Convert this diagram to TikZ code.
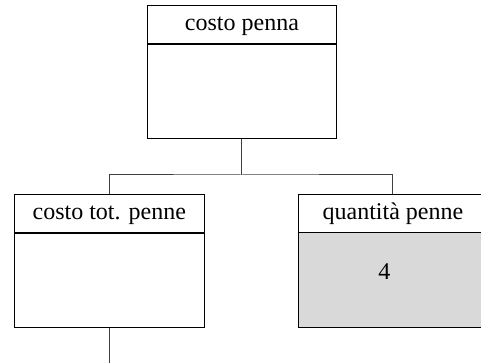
\documentclass[tikz,border=0pt]{standalone}
\usepackage{fontspec}
\setmainfont{Liberation Serif}
\begin{document}
\begin{tikzpicture}[x=1pt,y=-1pt,
  hdr/.style={draw=black,line width=1pt,minimum width=189.5pt,minimum height=37.5pt,inner sep=0pt,font=\fontsize{24}{27}\selectfont,anchor=north west,text height=15.5pt,text depth=3pt},
  body/.style={draw=black,line width=1pt,minimum width=189.5pt,minimum height=94.5pt,inner sep=0pt,anchor=north west},
  wire/.style={draw=black!75,line width=1pt}]
\clip (0,0) rectangle (481,363);
\useasboundingbox (0,0) rectangle (481,363);
\node[hdr] (ph) at (146.7,5.3) {costo penna};
\node[body] (pb) at (ph.south west) {};
\node[hdr] (lh) at (14,194.3) {costo tot. penne};
\node[body] (lb) at (lh.south west) {};
\node[body,fill=black!15] (rb) at (297.7,232) {};
\node[hdr] (rh) at (297.7,194.3) {quantità penne};
\node[font=\fontsize{24}{27}\selectfont,inner sep=0pt] (four) at (384.3,271.7) {4};
\coordinate (j) at (241.3,175);
\coordinate (e) at (109,363);
\draw[wire] (pb.south) -- (pb.south |- j);
\draw[wire] (lh.north) |- (j) -| (rh.north);
\draw[wire] (lb.south) -- (lb.south |- e);
\end{tikzpicture}
\end{document}
